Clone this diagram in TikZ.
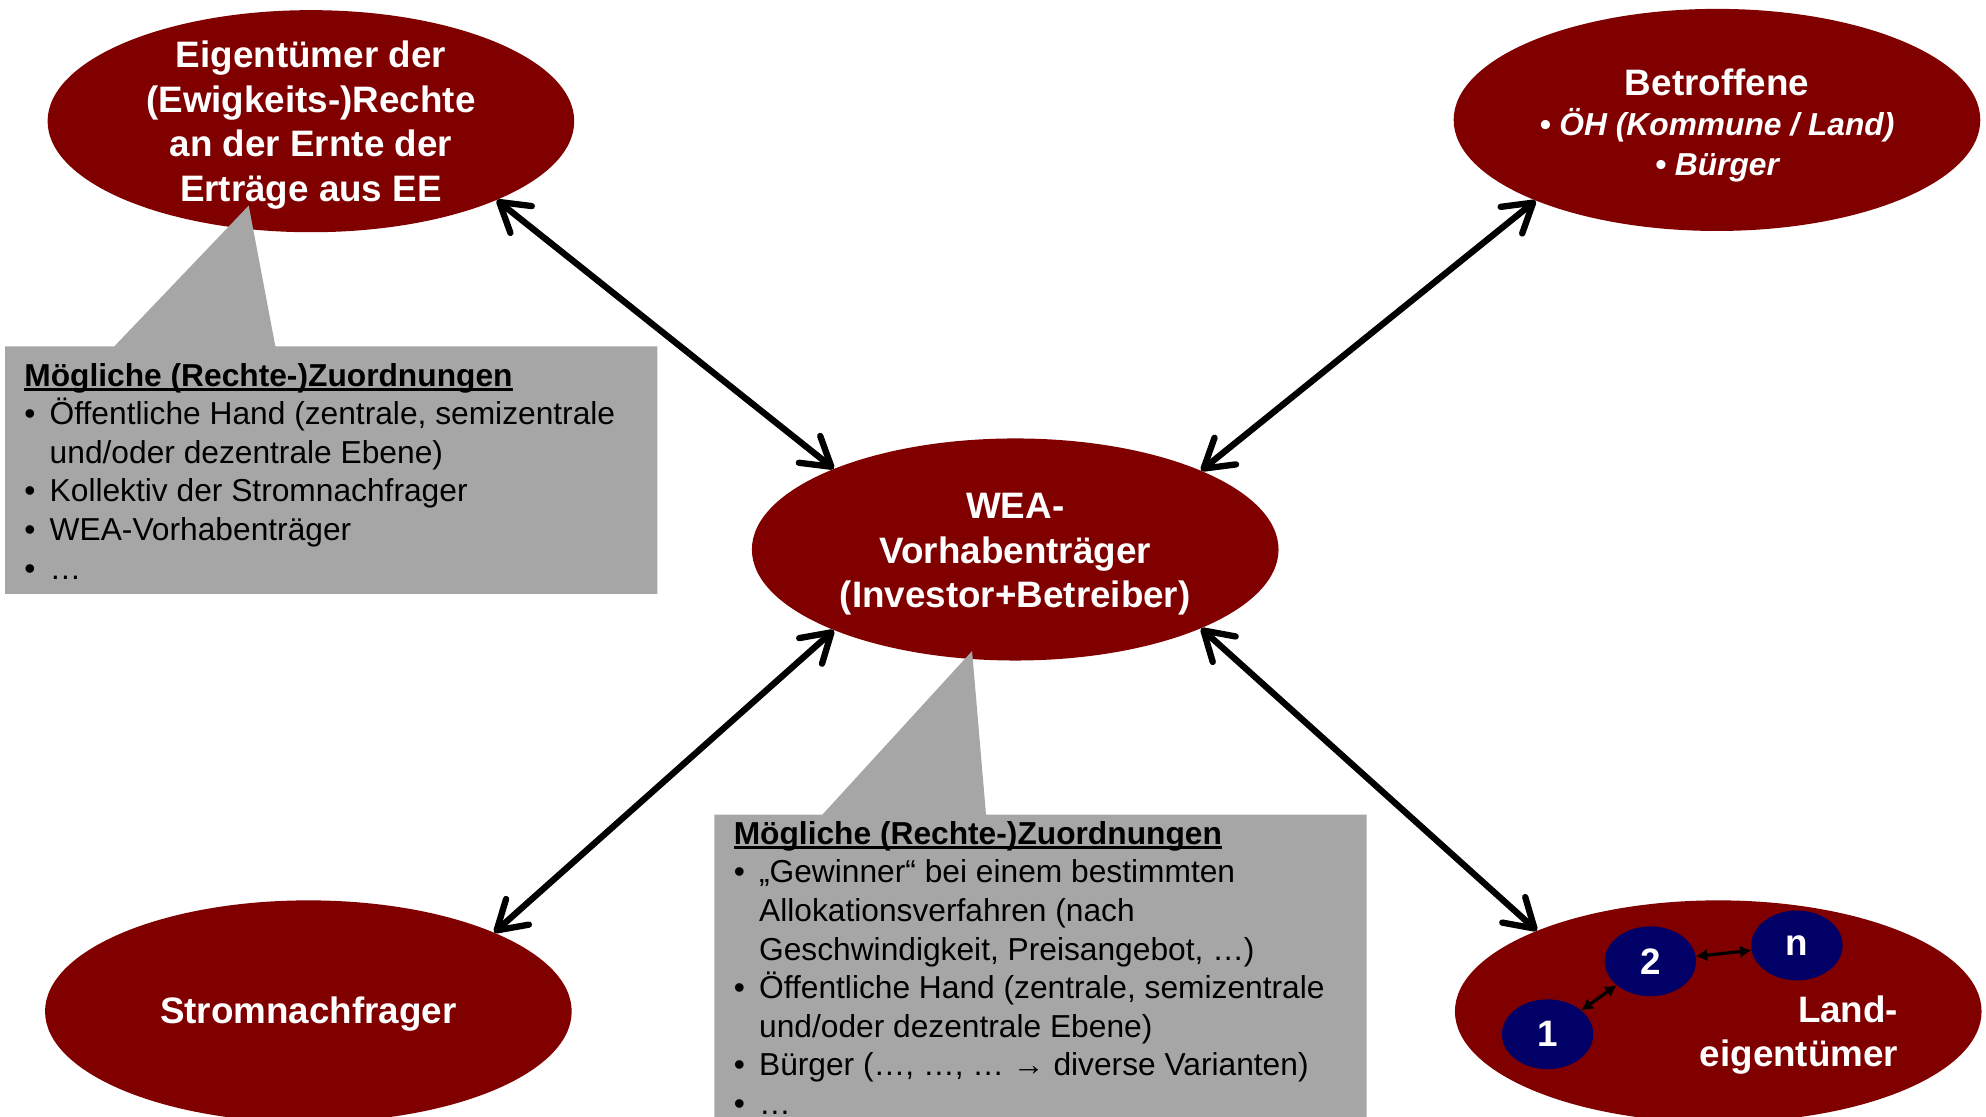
\documentclass[tikz,border=0pt]{standalone}
\usepackage{fontspec}
\setmainfont{Liberation Sans}
\usetikzlibrary{shapes.geometric, arrows.meta}
\definecolor{dred}{RGB}{128,0,0}
\definecolor{cgray}{RGB}{166,166,166}
\definecolor{cnavy}{RGB}{0,0,102}
\newcommand{\bulx}{\makebox[20pt][l]{•}}
\newcommand{\indx}{\hspace*{20pt}}
\newcommand{\myul}[1]{\setbox0\hbox{#1}\rlap{\rule[-3.5pt]{\wd0}{2pt}}\box0}
\tikzset{
  elli/.style={ellipse, fill=dred, minimum width=415pt, minimum height=175pt, inner sep=0pt},
  ellitext/.style={inner sep=0pt, text=white, font=\bfseries\fontsize{29}{35}\selectfont, align=center},
  smallelli/.style={ellipse, fill=cnavy, minimum width=72pt, minimum height=55pt, inner sep=0pt,
    text=white, font=\bfseries\fontsize{29}{35}\selectfont},
  bigarrow/.style={line width=5pt, black, line cap=round,
    {Straight Barb[length=22pt,width=27pt,round]}-{Straight Barb[length=22pt,width=27pt,round]}},
  smallarrow/.style={line width=2.5pt, black, {Latex[length=9pt,width=10pt]}-{Latex[length=9pt,width=10pt]}},
  boxtext/.style={anchor=north west, inner sep=0pt, align=left, text=black,
    font=\fontsize{25}{30.4}\selectfont},
  callout/.style={fill=cgray}
}
\begin{document}
\begin{tikzpicture}[x=1pt, y=-1pt]
\useasboundingbox (0,0) rectangle (1565,880.2);
% ellipses
\node[elli] (eig) at (245,95.5) {};
\node[ellitext] (eigt) at (245,98.5) {Eigentümer der\\(Ewigkeits-)Rechte\\an der Ernte der\\Erträge aus EE};
\node[elli] (bet) at (1353,94.5) {};
\node[ellitext] (bett) at (1353,98.5) {Betroffene\\[-3pt]{\fontsize{25}{30}\selectfont\itshape • ÖH (Kommune / Land)}\\[-4pt]{\fontsize{25}{30}\selectfont\itshape • Bürger}};
\node[elli] (wea) at (800,433) {};
\node[ellitext] (weat) at (800,437) {WEA-\\Vorhabenträger\\(Investor+Betreiber)};
\node[elli] (strom) at (243,797) {};
\node[ellitext] (stromt) at (243,799) {Stromnachfrager};
\node[elli] (land) at (1354,797) {};
\node[ellitext, anchor=east, align=right] (landt) at (1496,815.5) {Land-\\eigentümer};
\node[smallelli] (n1) at (1219.5,815) {1};
\node[smallelli] (n2) at (1300.5,757.5) {2};
\node[smallelli] (nn) at (1416,745) {n};
\draw[smallarrow] (n1) -- (n2);
\draw[smallarrow] (n2) -- (nn);
% callouts
\fill[callout] (4,273) -- (90,273) -- (196,162) -- (217,273) -- (518,273) -- (518,468) -- (4,468) -- cycle;
\fill[callout] (563,642) -- (648,642) -- (766,513) -- (777,642) -- (1077,642) -- (1077,890) -- (563,890) -- cycle;
\node[boxtext] (t1) at (19,286) {\myul{\bfseries Mögliche (Rechte-)Zuordnungen}\\
\bulx Öffentliche Hand (zentrale, semizentrale\\
\indx und/oder dezentrale Ebene)\\
\bulx Kollektiv der Stromnachfrager\\
\bulx WEA-Vorhabenträger\\
\bulx …};
\node[boxtext] (t2) at (578,647) {\myul{\bfseries Mögliche (Rechte-)Zuordnungen}\\
\bulx „Gewinner“ bei einem bestimmten\\
\indx Allokationsverfahren (nach\\
\indx Geschwindigkeit, Preisangebot, …)\\
\bulx Öffentliche Hand (zentrale, semizentrale\\
\indx und/oder dezentrale Ebene)\\
\bulx Bürger (…, …, … \textbf{→} diverse Varianten)\\
\bulx …};
% arrows
\draw[bigarrow] (eig.-23) -- (wea.156.4);
\draw[bigarrow] (bet.-156) -- (wea.23.6);
\draw[bigarrow] (wea.-156.4) -- (strom.23.7);
\draw[bigarrow] (wea.-23.6) -- (land.156);
\end{tikzpicture}
\end{document}
